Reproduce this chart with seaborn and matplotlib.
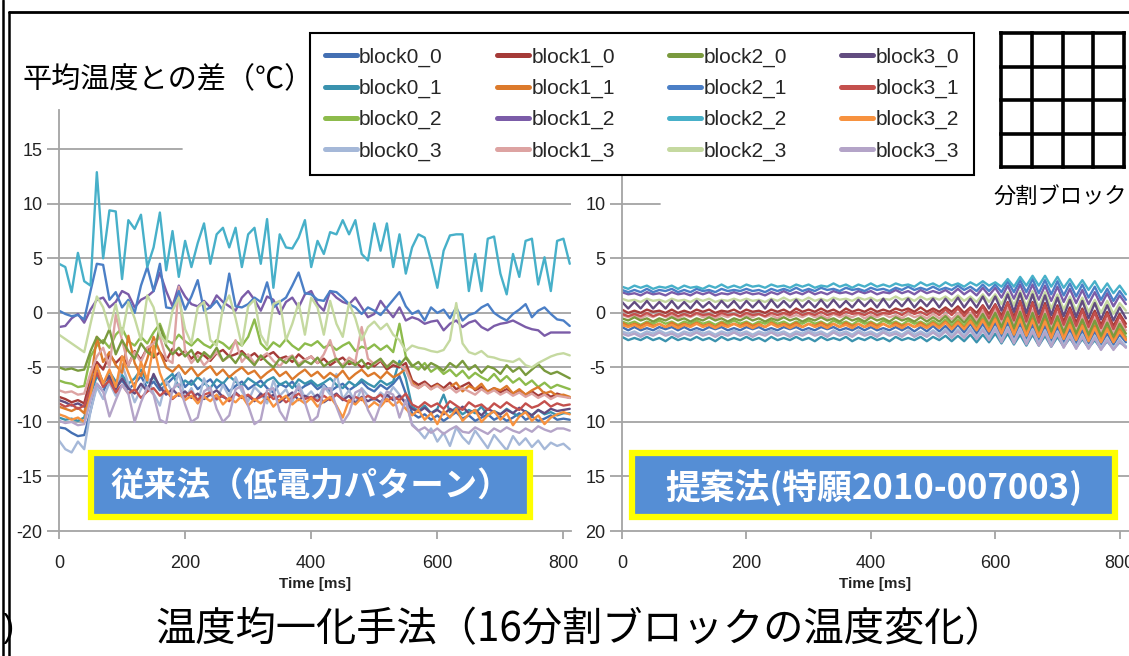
import matplotlib
matplotlib.use("Agg")
import matplotlib.pyplot as plt
import seaborn as sns
import pandas as pd
from matplotlib.lines import Line2D
from matplotlib.patches import Rectangle

# time axis (ms), one sample every 10 ms
TIME = list(range(0, 820, 10))

NAMES = ['block0_0', 'block0_1', 'block0_2', 'block0_3',
         'block1_0', 'block1_1', 'block1_2', 'block1_3',
         'block2_0', 'block2_1', 'block2_2', 'block2_3',
         'block3_0', 'block3_1', 'block3_2', 'block3_3']

COLORS = ['#4470B3', '#3A92AE', '#8DBB4C', '#A5B8D8',
          '#A53B38', '#DC7A2C', '#7B5CA8', '#DDA3A2',
          '#7A9A3E', '#4B7FC6', '#47B0C9', '#C5D9A0',
          '#624C80', '#C4504D', '#F7923F', '#B4A4C8']

# ---- conventional method (left panel) ----
L_B0_0 = [-10.5, -10.6, -11.0, -11.3, -11.2, -9.0, -6.5, -7.2, -6.0, -6.8,
          -6.2, -7.0, -6.5, -5.8, -6.9, -6.3, -7.1, -6.6, -6.0, -5.5,
          -6.8, -6.2, -7.0, -6.5, -6.1, -6.9, -6.4, -7.2, -6.7, -6.3,
          -7.0, -6.6, -6.2, -6.9, -7.3, -6.5, -6.8, -6.3, -7.1, -6.7,
          -6.4, -7.0, -6.6, -7.2, -6.8, -6.5, -7.1, -6.7, -6.3, -6.9,
          -7.2, -6.6, -7.0, -6.5, -5.8, -7.4, -9.2, -9.6, -9.3, -9.8,
          -9.4, -9.9, -9.5, -9.1, -9.7, -9.4, -9.9, -9.6, -9.3, -9.8,
          -9.5, -9.9, -9.6, -9.2, -9.8, -9.5, -9.9, -9.7, -9.4, -9.8,
          -9.7, -9.8]
L_B0_1 = [-9.6, -9.8, -9.7, -9.9, -9.6, -7.5, -5.8, -6.6, -5.4, -6.3,
          -5.7, -6.5, -6.0, -5.2, -6.4, -5.9, -6.7, -6.1, -5.6, -6.8,
          -6.2, -6.6, -5.9, -6.4, -6.9, -6.1, -6.5, -5.8, -6.3, -6.7,
          -6.0, -6.4, -6.8, -6.2, -5.9, -6.6, -6.3, -6.9, -6.1, -6.5,
          -6.2, -6.7, -6.4, -6.0, -6.6, -6.9, -6.3, -6.7, -6.1, -6.5,
          -6.8, -6.2, -6.6, -6.3, -4.4, -6.0, -8.6, -9.0, -8.5, -9.2,
          -8.8, -7.5, -9.1, -8.7, -9.3, -8.9, -9.2, -8.6, -9.4, -9.0,
          -9.3, -8.8, -9.2, -9.5, -9.0, -9.4, -8.9, -9.3, -9.1, -9.4,
          -9.2, -9.2]
L_B0_2 = [-6.2, -6.4, -6.5, -6.8, -6.7, -4.0, -3.0, -2.5, -3.2, -2.0,
          -1.4, -2.6, -3.0, -2.2, -2.8, -1.8, -1.0, -2.5, -2.8, -2.0,
          -2.6, -3.0, -2.4, -2.9, -3.2, -2.5, -2.8, -3.3, -2.6, -3.0,
          -2.2, -0.6, -2.8, -3.4, -2.7, -3.1, -2.4, -3.0, -3.4, -2.8,
          -3.0, -2.6, -3.2, -2.9, -3.4, -3.0, -2.7, -3.5, -3.1, -3.3,
          -2.9, -3.4, -3.0, -3.6, -1.0, -4.0, -4.8, -5.2, -4.6, -5.4,
          -5.0, -5.6, -5.2, -5.8, -5.3, -6.0, -5.5, -5.9, -6.2, -5.6,
          -6.3, -5.8, -6.4, -6.0, -6.6, -6.2, -6.8, -6.4, -6.9, -6.6,
          -6.8, -7.0]
L_B0_3 = [-11.7, -12.5, -12.8, -11.8, -12.5, -9.0, -6.8, -7.9, -6.4, -7.6,
          -4.7, -6.5, -8.2, -7.0, -5.8, -7.4, -8.5, -6.2, -7.3, -5.5,
          -7.8, -6.9, -8.3, -6.0, -7.5, -8.0, -6.6, -7.7, -5.9, -7.2,
          -8.1, -6.8, -7.4, -8.3, -6.2, -7.6, -7.0, -8.2, -6.5, -7.8,
          -7.2, -8.0, -6.7, -7.5, -5.6, -7.9, -7.1, -8.3, -6.9, -7.6,
          -8.1, -7.3, -7.8, -6.8, -7.5, -8.2, -10.2, -10.8, -11.5, -10.6,
          -11.8, -11.0, -12.2, -10.5, -11.4, -12.0, -10.8, -11.6, -12.4, -11.2,
          -11.9, -12.6, -11.3, -12.1, -11.5, -12.3, -11.7, -12.5, -11.9, -12.2,
          -12.0, -12.5]
L_B1_0 = [-7.7, -7.9, -8.2, -8.0, -8.3, -6.0, -4.5, -5.2, -3.8, -4.6,
          -4.0, -4.8, -3.5, -4.3, -3.2, -4.1, -3.6, -4.4, -3.3, -3.9,
          -3.5, -4.2, -3.6, -3.9, -4.4, -3.7, -3.4, -4.0, -3.8, -3.5,
          -4.1, -3.7, -4.3, -3.9, -3.6, -4.2, -4.0, -4.5, -3.8, -4.3,
          -4.0, -4.6, -4.2, -4.8, -4.4, -4.1, -4.7, -4.5, -5.0, -4.6,
          -4.9, -4.4, -5.2, -4.8, -5.0, -4.6, -6.2, -6.6, -6.3, -6.8,
          -6.5, -6.9, -6.4, -7.0, -6.7, -6.4, -7.1, -6.8, -7.2, -6.9,
          -7.3, -7.0, -7.4, -7.1, -7.5, -7.2, -7.6, -7.3, -7.7, -7.4,
          -7.6, -7.8]
L_B1_1 = [-8.6, -8.8, -9.0, -8.7, -9.2, -6.5, -2.2, -4.5, -3.6, -4.8,
          -5.5, -2.1, -4.6, -5.8, -4.2, -2.2, -3.6, -5.0, -5.4, -4.8,
          -5.6, -5.0, -5.8, -5.3, -4.9, -5.7, -5.2, -5.9, -5.4, -5.0,
          -5.6, -5.3, -6.0, -5.5, -5.1, -5.8, -5.4, -6.1, -5.6, -5.2,
          -5.8, -5.4, -6.0, -5.5, -5.9, -5.3, -6.1, -5.6, -5.2, -5.8,
          -5.5, -6.0, -5.4, -5.9, -5.6, -5.1, -6.4, -6.9, -6.5, -7.0,
          -6.6, -7.1, -6.8, -6.4, -7.2, -6.7, -7.0, -6.5, -7.3, -6.9,
          -7.1, -6.7, -7.4, -7.0, -7.5, -7.1, -6.8, -7.4, -7.2, -7.6,
          -7.5, -7.7]
L_B1_2 = [-1.3, -1.2, -0.5, -0.1, -0.9, 0.3, 1.2, 1.4, 0.5, 1.0,
          2.0, 1.7, 0.5, 1.2, 1.5, 2.0, 3.7, 2.0, 0.6, 2.5,
          1.5, 0.8, 0.6, 1.1, 0.5, 1.6, 1.0, 0.6, 0.2, 1.4,
          2.0, 1.2, 0.2, 1.5, 1.2, -0.1, 1.0, 1.4, 0.5, 1.7,
          2.0, 0.8, 0.2, 2.0, 1.4, 1.0, 0.8, 1.4, 0.5, -0.4,
          -0.1, 1.1, 0.3, -0.4, 0.5, -0.7, -0.4, -0.6, -1.0, -0.8,
          -0.7, -1.6, -1.0, -0.7, -1.3, -0.9, -0.7, -1.3, -1.6, -1.2,
          -1.0, -0.9, -0.7, -1.0, -1.3, -1.5, -1.6, -2.1, -1.8, -1.8,
          -1.8, -1.8]
L_B1_3 = [-7.1, -7.3, -7.2, -7.5, -7.4, -5.5, -4.0, -3.2, -5.0, -0.2,
          -2.5, -4.8, -3.6, -4.5, -3.2, -2.8, -2.2, -4.2, -4.6, 2.4,
          -3.5, -4.6, -3.9, -4.8, -4.2, -3.6, -4.4, -4.0, -2.5, -4.5,
          -3.8, -4.6, -4.1, -3.7, -4.4, -4.9, -4.2, -3.9, -4.7, -4.3,
          -4.0, -4.6, -3.8, -2.5, -4.4, -4.8, -4.1, -4.5, -1.3, -4.2,
          -4.7, -4.3, -4.9, -4.5, -4.8, -5.2, -6.6, -6.9, -6.5, -7.0,
          -6.7, -7.1, -6.8, -7.3, -6.9, -7.2, -7.5, -7.0, -7.4, -7.1,
          -7.5, -7.2, -7.6, -7.3, -7.7, -7.4, -7.8, -7.5, -7.9, -7.6,
          -7.7, -7.8]
L_B2_0 = [-5.0, -5.2, -5.1, -5.3, -5.2, -3.5, -2.2, -2.8, -1.5, -3.8,
          -2.5, -3.5, -4.2, -2.8, -3.6, -4.0, -1.2, -3.0, -3.8, -3.2,
          -4.0, -3.4, -4.5, -3.6, -4.1, -3.2, -4.4, -3.9, -4.6, -3.7,
          -4.2, -4.8, -3.9, -4.5, -5.0, -4.2, -4.6, -4.0, -4.9, -4.4,
          -4.7, -4.1, -4.9, -4.5, -4.2, -5.0, -4.4, -4.8, -4.3, -5.1,
          -4.6, -4.2, -5.0, -4.4, -4.8, -4.1, -4.9, -4.5, -5.2, -4.6,
          -4.9, -5.3, -4.6, -5.0, -4.4, -5.2, -4.8, -5.5, -4.9, -5.1,
          -5.6, -4.8, -5.4, -5.0, -5.7, -5.2, -4.7, -5.3, -5.6, -5.4,
          -5.7, -6.0]
L_B2_1 = [0.2, -0.1, -0.3, -0.2, -0.6, 2.0, 4.5, 4.4, 1.2, 1.9,
          0.5, 1.2, 0.0, 2.5, 4.2, 2.0, 4.5, 0.5, 0.4, 2.0,
          0.3, 1.5, 3.0, 0.2, 0.5, 1.1, 0.2, 3.6, 0.6, 0.5,
          0.8, 1.4, 1.0, 2.8, 0.5, 1.0, 1.4, 2.5, 3.7, 1.8,
          1.7, 1.2, 1.1, 2.0, 1.9, 1.4, 0.8, 0.5, -0.1, 0.5,
          0.2, -0.2, 0.5, 1.2, 1.9, 0.6, -0.1, 0.2, -0.7, 0.5,
          0.0, 0.3, -0.5, 0.5, -0.7, -0.2, 0.0, 0.5, 0.8, 0.0,
          -0.4, -0.7, -0.1, 0.3, 0.8, -0.4, 0.2, 0.5, -0.1, -0.6,
          -0.7, -1.2]
L_B2_2 = [4.5, 4.2, 1.9, 5.5, 2.9, 2.5, 12.9, 5.0, 9.4, 9.3,
          3.1, 8.5, 7.7, 9.0, 4.2, 6.0, 9.2, 3.9, 7.5, 3.3,
          6.6, 4.2, 6.4, 8.2, 4.5, 7.2, 7.8, 6.0, 7.8, 4.2,
          7.2, 7.8, 4.5, 8.6, 2.3, 7.2, 6.0, 5.9, 6.9, 8.5,
          4.2, 6.6, 5.4, 7.4, 7.2, 8.5, 7.2, 8.5, 5.4, 4.8,
          8.2, 5.7, 8.2, 4.2, 7.2, 3.6, 6.0, 7.2, 6.9, 4.8,
          2.3, 5.7, 7.1, 7.2, 7.2, 2.0, 5.4, 2.0, 6.8, 7.0,
          3.6, 1.7, 5.4, 3.3, 6.6, 6.8, 2.6, 5.1, 2.0, 6.6,
          6.8, 4.5]
L_B2_3 = [-2.0, -2.4, -2.8, -3.2, -3.6, -1.0, 1.5, 0.5, -1.5, 0.8,
          -2.0, 1.0, -0.5, -2.5, 1.6, 0.5, -2.0, -2.8, 0.2, 1.4,
          -1.5, -2.8, 0.5, 1.0, -2.5, -3.0, 0.5, 1.6, -0.5, -3.0,
          0.6, 1.2, -2.0, -3.0, 0.8, 1.1, -2.5, -1.0, 0.9, -2.0,
          1.4, 0.5, -2.0, 1.1, -1.0, -2.2, 0.9, -0.5, -2.5, -1.3,
          -0.8, -1.5, -1.0, -2.0, -2.5, -3.5, -3.0, -3.2, -3.3, -3.5,
          -3.6, -3.4, -2.5, 0.9, -2.8, -3.6, -3.8, -3.5, -4.0, -4.1,
          -4.3, -4.4, -4.5, -4.2, -4.8, -5.0, -4.6, -4.3, -4.0, -3.8,
          -3.7, -3.9]
L_B3_0 = [-8.0, -8.2, -8.5, -8.3, -8.6, -6.8, -5.0, -6.4, -5.8, -7.0,
          -6.0, -6.9, -7.4, -6.5, -7.2, -5.6, -6.8, -7.5, -7.0, -7.6,
          -7.2, -7.8, -7.4, -7.9, -7.5, -7.1, -7.7, -8.0, -7.3, -7.8,
          -7.6, -8.1, -7.4, -7.9, -7.5, -8.2, -7.7, -7.3, -8.0, -7.6,
          -7.9, -7.5, -8.2, -7.8, -7.4, -8.0, -7.6, -8.3, -7.7, -8.1,
          -7.8, -8.2, -7.5, -8.0, -7.6, -8.3, -8.8, -9.1, -8.7, -9.2,
          -8.9, -9.3, -8.8, -9.1, -8.6, -9.2, -8.9, -9.4, -8.8, -9.1,
          -9.3, -8.9, -9.2, -8.7, -9.1, -9.4, -8.9, -9.2, -8.8, -9.0,
          -8.9, -8.8]
L_B3_1 = [-8.3, -8.6, -8.4, -8.8, -8.5, -7.0, -5.5, -6.8, -6.2, -7.3,
          -6.6, -7.4, -7.0, -7.8, -7.2, -6.9, -7.6, -7.1, -7.9, -7.4,
          -7.7, -7.2, -8.0, -7.5, -7.3, -7.9, -7.6, -8.1, -7.4, -7.8,
          -7.5, -8.0, -7.7, -7.3, -7.9, -7.6, -8.2, -7.8, -7.4, -7.9,
          -7.7, -8.1, -7.6, -8.0, -7.5, -7.9, -8.2, -7.7, -8.0, -7.6,
          -7.9, -7.5, -8.1, -7.7, -8.0, -7.4, -8.4, -8.7, -8.2, -8.6,
          -8.3, -8.8, -8.1, -8.5, -8.9, -8.2, -8.6, -8.4, -8.9, -8.3,
          -8.7, -8.2, -8.6, -8.9, -8.3, -8.7, -8.5, -8.1, -8.6, -8.3,
          -8.5, -8.4]
L_B3_2 = [-9.3, -9.5, -9.8, -9.6, -10.0, -7.5, -4.8, -6.5, -5.2, -6.8,
          -4.0, -5.5, -6.9, -4.5, -6.2, -3.0, -5.5, -7.0, -7.8, -7.4,
          -8.0, -7.6, -8.3, -7.7, -8.1, -7.5, -8.4, -7.8, -8.2, -7.6,
          -8.5, -7.9, -8.3, -7.7, -8.6, -8.0, -7.6, -8.4, -7.9, -8.3,
          -7.8, -8.6, -8.1, -7.7, -8.5, -9.6, -8.0, -8.4, -7.8, -8.7,
          -8.2, -8.6, -7.9, -8.5, -8.1, -8.8, -9.4, -8.9, -9.8, -9.2,
          -10.2, -9.0, -9.6, -8.8, -9.9, -9.3, -8.9, -10.0, -9.4, -9.0,
          -9.8, -9.2, -10.3, -9.5, -9.1, -9.9, -9.4, -10.2, -9.6, -9.3,
          -9.1, -9.3]
L_B3_3 = [-9.9, -10.1, -10.0, -10.3, -10.2, -8.0, -6.5, -7.2, -9.5, -8.0,
          -6.6, -7.4, -10.0, -8.2, -6.8, -7.5, -9.8, -10.1, -7.0, -6.5,
          -8.4, -10.0, -9.6, -7.2, -6.8, -8.8, -10.0, -9.4, -7.0, -6.7,
          -8.5, -10.2, -9.8, -7.1, -6.9, -9.0, -9.9, -7.6, -6.8, -8.2,
          -10.0, -9.5, -7.0, -6.9, -8.6, -10.1, -9.2, -7.3, -7.0, -8.9,
          -10.0, -8.4, -7.2, -7.5, -9.6, -8.0, -10.3, -10.8, -10.5, -11.0,
          -10.6, -11.1, -10.7, -10.4, -10.9, -11.0, -10.5, -10.8, -11.1, -10.6,
          -10.9, -10.5, -10.8, -11.0, -10.6, -10.9, -10.4, -10.7, -10.9, -10.6,
          -10.6, -10.8]

# ---- proposed method (right panel) ----
R_B0_0 = [-1.3, -1.6, -1.3, -1.6, -1.4, -1.6, -1.3, -1.5, -1.3, -1.6,
          -1.3, -1.6, -1.4, -1.6, -1.3, -1.5, -1.3, -1.6, -1.4, -1.6,
          -1.3, -1.5, -1.3, -1.6, -1.4, -1.6, -1.3, -1.5, -1.3, -1.6,
          -1.4, -1.6, -1.3, -1.5, -1.3, -1.6, -1.4, -1.6, -1.3, -1.6,
          -1.3, -1.6, -1.4, -1.6, -1.3, -1.6, -1.3, -1.7, -1.3, -1.7,
          -1.2, -1.7, -1.2, -1.8, -1.1, -1.8, -1.0, -1.9, -1.0, -2.0,
          -0.9, -2.2, -0.9, -2.3, -1.0, -2.4, -1.1, -2.5, -1.2, -2.6,
          -1.3, -2.7, -1.5, -2.8, -1.6, -2.8, -1.7, -2.9, -1.9, -2.9,
          -2.0, -2.7]
R_B0_1 = [-2.2, -2.5, -2.3, -2.5, -2.2, -2.5, -2.3, -2.6, -2.2, -2.5,
          -2.3, -2.5, -2.2, -2.5, -2.3, -2.6, -2.2, -2.5, -2.3, -2.5,
          -2.2, -2.5, -2.3, -2.6, -2.2, -2.5, -2.3, -2.5, -2.2, -2.5,
          -2.3, -2.6, -2.2, -2.5, -2.3, -2.5, -2.2, -2.6, -2.3, -2.5,
          -2.2, -2.5, -2.3, -2.6, -2.2, -2.5, -2.3, -2.5, -2.2, -2.6,
          -2.2, -2.5, -2.1, -2.6, -2.1, -2.6, -2.0, -2.7, -2.0, -2.7,
          -1.9, -2.8, -1.9, -2.9, -2.0, -3.0, -2.0, -3.0, -2.1, -3.1,
          -2.2, -3.1, -2.3, -3.2, -2.4, -3.2, -2.5, -3.3, -2.6, -3.3,
          -2.7, -3.1]
R_B0_2 = [-0.8, -1.0, -0.8, -1.1, -0.8, -1.0, -0.7, -1.0, -0.8, -1.1,
          -0.8, -1.0, -0.7, -1.0, -0.8, -1.1, -0.8, -1.0, -0.7, -1.0,
          -0.8, -1.1, -0.8, -1.0, -0.7, -1.0, -0.8, -1.1, -0.8, -1.0,
          -0.7, -1.0, -0.8, -1.1, -0.7, -1.0, -0.8, -1.1, -0.7, -1.0,
          -0.8, -1.1, -0.7, -1.0, -0.8, -1.1, -0.7, -1.0, -0.8, -1.1,
          -0.7, -1.1, -0.6, -1.2, -0.6, -1.2, -0.5, -1.3, -0.4, -1.4,
          -0.3, -1.6, -0.2, -1.7, -0.2, -1.8, -0.3, -1.9, -0.4, -2.0,
          -0.5, -2.1, -0.7, -2.2, -0.8, -2.3, -1.0, -2.4, -1.1, -2.5,
          -1.3, -2.2]
R_B0_3 = [-1.7, -1.9, -1.7, -2.0, -1.7, -1.9, -1.6, -1.9, -1.7, -2.0,
          -1.7, -1.9, -1.6, -1.9, -1.7, -2.0, -1.7, -1.9, -1.6, -1.9,
          -1.7, -2.0, -1.7, -1.9, -1.6, -1.9, -1.7, -2.0, -1.7, -1.9,
          -1.6, -1.9, -1.7, -2.0, -1.6, -1.9, -1.7, -2.0, -1.6, -1.9,
          -1.7, -2.0, -1.6, -1.9, -1.7, -2.0, -1.6, -2.0, -1.7, -2.0,
          -1.6, -2.0, -1.5, -2.1, -1.5, -2.1, -1.4, -2.2, -1.4, -2.3,
          -1.3, -2.5, -1.3, -2.6, -1.4, -2.7, -1.5, -2.8, -1.6, -2.9,
          -1.7, -3.0, -1.9, -3.1, -2.0, -3.2, -2.1, -3.2, -2.3, -3.3,
          -2.4, -3.1]
R_B1_0 = [0.3, 0.0, 0.2, 0.0, 0.3, 0.1, 0.2, 0.0, 0.3, 0.0,
          0.2, 0.0, 0.3, 0.1, 0.3, 0.0, 0.2, 0.1, 0.3, 0.0,
          0.3, 0.1, 0.2, 0.0, 0.3, 0.1, 0.3, 0.0, 0.4, 0.1,
          0.3, 0.1, 0.4, 0.1, 0.3, 0.0, 0.4, 0.1, 0.3, 0.1,
          0.4, 0.1, 0.3, 0.1, 0.4, 0.2, 0.4, 0.1, 0.5, 0.1,
          0.4, 0.1, 0.5, 0.1, 0.6, 0.0, 0.5, 0.0, 0.7, -0.1,
          0.8, -0.3, 1.0, -0.4, 1.1, -0.5, 1.0, -0.6, 0.9, -0.7,
          0.7, -0.8, 0.5, -0.9, 0.4, -1.0, 0.2, -1.1, 0.1, -1.2,
          -0.1, -1.0]
R_B1_1 = [-0.9, -1.2, -1.0, -1.2, -0.9, -1.2, -1.0, -1.3, -0.9, -1.2,
          -1.0, -1.2, -0.9, -1.2, -1.0, -1.3, -0.9, -1.2, -1.0, -1.2,
          -0.9, -1.2, -1.0, -1.3, -0.9, -1.2, -1.0, -1.2, -0.9, -1.3,
          -1.0, -1.2, -0.9, -1.2, -1.0, -1.3, -0.9, -1.2, -1.0, -1.3,
          -0.9, -1.2, -1.0, -1.3, -0.9, -1.2, -1.0, -1.3, -0.9, -1.3,
          -0.9, -1.3, -0.8, -1.4, -0.8, -1.4, -0.7, -1.5, -0.6, -1.6,
          -0.5, -1.8, -0.4, -1.9, -0.4, -2.0, -0.5, -2.1, -0.6, -2.2,
          -0.8, -2.3, -0.9, -2.4, -1.1, -2.5, -1.2, -2.6, -1.4, -2.6,
          -1.5, -2.4]
R_B1_2 = [1.9, 1.7, 1.8, 1.6, 1.9, 1.7, 1.8, 1.6, 1.9, 1.7,
          1.8, 1.6, 1.9, 1.7, 1.9, 1.6, 1.8, 1.7, 1.9, 1.7,
          1.9, 1.7, 1.8, 1.6, 1.9, 1.7, 2.0, 1.7, 1.9, 1.7,
          2.0, 1.7, 1.9, 1.7, 2.0, 1.8, 1.9, 1.7, 2.0, 1.8,
          2.0, 1.7, 1.9, 1.8, 2.1, 1.8, 2.0, 1.7, 2.1, 1.8,
          2.0, 1.8, 2.1, 1.7, 2.2, 1.7, 2.1, 1.6, 2.3, 1.6,
          2.3, 1.4, 2.5, 1.3, 2.6, 1.3, 2.6, 1.2, 2.5, 1.1,
          2.4, 1.0, 2.2, 0.9, 2.1, 0.8, 1.9, 0.7, 1.8, 0.6,
          1.6, 0.8]
R_B1_3 = [-0.2, -0.4, -0.2, -0.5, -0.2, -0.4, -0.1, -0.4, -0.2, -0.5,
          -0.2, -0.4, -0.1, -0.4, -0.2, -0.5, -0.2, -0.4, -0.1, -0.4,
          -0.2, -0.4, -0.1, -0.4, -0.2, -0.5, -0.1, -0.4, -0.2, -0.4,
          -0.1, -0.4, -0.2, -0.5, -0.1, -0.4, -0.2, -0.4, -0.1, -0.5,
          -0.2, -0.4, -0.1, -0.4, -0.2, -0.5, -0.1, -0.4, -0.2, -0.5,
          -0.1, -0.5, -0.1, -0.6, 0.0, -0.6, 0.0, -0.7, 0.2, -0.8,
          0.3, -1.0, 0.4, -1.1, 0.4, -1.2, 0.3, -1.3, 0.2, -1.4,
          0.0, -1.5, -0.2, -1.6, -0.3, -1.7, -0.5, -1.8, -0.6, -1.9,
          -0.8, -1.6]
R_B2_0 = [-0.5, -0.7, -0.4, -0.7, -0.5, -0.8, -0.5, -0.7, -0.4, -0.7,
          -0.5, -0.8, -0.5, -0.7, -0.4, -0.7, -0.5, -0.8, -0.5, -0.7,
          -0.4, -0.7, -0.5, -0.8, -0.5, -0.7, -0.4, -0.7, -0.5, -0.8,
          -0.5, -0.7, -0.4, -0.7, -0.5, -0.8, -0.4, -0.7, -0.5, -0.8,
          -0.4, -0.7, -0.5, -0.8, -0.4, -0.7, -0.5, -0.8, -0.4, -0.8,
          -0.4, -0.8, -0.3, -0.9, -0.3, -0.9, -0.2, -1.0, -0.1, -1.1,
          0.0, -1.3, 0.1, -1.4, 0.1, -1.5, 0.0, -1.6, -0.1, -1.7,
          -0.3, -1.8, -0.4, -1.9, -0.6, -2.0, -0.7, -2.1, -0.9, -2.2,
          -1.0, -1.9]
R_B2_1 = [2.1, 1.9, 2.1, 1.9, 2.2, 1.9, 2.1, 2.0, 2.2, 1.9,
          2.1, 1.9, 2.2, 2.0, 2.1, 1.9, 2.2, 2.0, 2.1, 2.0,
          2.2, 2.0, 2.1, 1.9, 2.2, 2.0, 2.2, 2.0, 2.3, 2.0,
          2.2, 2.0, 2.3, 2.1, 2.2, 2.0, 2.3, 2.1, 2.2, 2.0,
          2.3, 2.1, 2.2, 2.0, 2.3, 2.1, 2.4, 2.1, 2.3, 2.1,
          2.4, 2.1, 2.3, 2.1, 2.5, 2.1, 2.4, 2.0, 2.6, 2.0,
          2.6, 1.9, 2.9, 1.9, 3.0, 1.9, 3.1, 1.8, 3.0, 1.7,
          2.9, 1.6, 2.7, 1.5, 2.6, 1.4, 2.4, 1.2, 2.2, 1.1,
          2.0, 1.2]
R_B2_2 = [2.4, 2.2, 2.5, 2.3, 2.5, 2.2, 2.4, 2.3, 2.5, 2.2,
          2.5, 2.3, 2.4, 2.2, 2.5, 2.3, 2.6, 2.3, 2.5, 2.3,
          2.6, 2.4, 2.5, 2.3, 2.6, 2.4, 2.5, 2.3, 2.6, 2.4,
          2.6, 2.3, 2.5, 2.4, 2.7, 2.4, 2.6, 2.3, 2.6, 2.4,
          2.7, 2.4, 2.6, 2.4, 2.7, 2.5, 2.6, 2.4, 2.8, 2.5,
          2.7, 2.4, 2.8, 2.5, 2.7, 2.4, 2.8, 2.5, 2.9, 2.5,
          2.8, 2.4, 3.1, 2.4, 3.3, 2.5, 3.4, 2.5, 3.4, 2.4,
          3.3, 2.3, 3.1, 2.2, 3.0, 2.1, 2.9, 1.9, 2.7, 1.8,
          2.5, 1.7]
R_B2_3 = [1.3, 1.1, 1.2, 1.0, 1.3, 1.1, 1.2, 1.0, 1.3, 1.1,
          1.2, 1.0, 1.3, 1.1, 1.3, 1.0, 1.2, 1.1, 1.3, 1.1,
          1.3, 1.1, 1.2, 1.0, 1.3, 1.1, 1.4, 1.1, 1.3, 1.1,
          1.4, 1.1, 1.3, 1.1, 1.4, 1.2, 1.3, 1.1, 1.4, 1.2,
          1.4, 1.1, 1.3, 1.2, 1.5, 1.2, 1.4, 1.1, 1.5, 1.2,
          1.4, 1.2, 1.5, 1.1, 1.6, 1.1, 1.5, 1.0, 1.7, 1.0,
          1.7, 0.8, 1.9, 0.7, 2.0, 0.6, 2.0, 0.5, 1.9, 0.4,
          1.7, 0.3, 1.5, 0.2, 1.4, 0.1, 1.2, 0.0, 1.1, -0.1,
          0.9, 0.2]
R_B3_0 = [1.0, 0.4, 1.0, 0.4, 1.1, 0.4, 1.0, 0.4, 1.1, 0.4,
          1.0, 0.4, 1.1, 0.5, 1.0, 0.4, 1.1, 0.5, 1.1, 0.4,
          1.1, 0.5, 1.1, 0.4, 1.2, 0.5, 1.1, 0.5, 1.2, 0.5,
          1.1, 0.5, 1.2, 0.5, 1.2, 0.5, 1.1, 0.5, 1.2, 0.6,
          1.2, 0.5, 1.3, 0.5, 1.2, 0.6, 1.3, 0.5, 1.2, 0.6,
          1.3, 0.5, 1.3, 0.6, 1.4, 0.5, 1.3, 0.5, 1.5, 0.4,
          1.5, 0.2, 1.7, 0.1, 1.8, 0.0, 1.7, -0.1, 1.6, -0.2,
          1.4, -0.3, 1.2, -0.4, 1.1, -0.5, 0.9, -0.6, 0.7, -0.7,
          0.5, -0.5]
R_B3_1 = [-0.1, -0.3, -0.1, -0.3, 0.0, -0.3, -0.1, -0.3, 0.0, -0.3,
          -0.1, -0.3, 0.0, -0.2, -0.1, -0.3, 0.0, -0.2, -0.1, -0.3,
          0.0, -0.2, -0.1, -0.3, 0.0, -0.2, 0.0, -0.2, 0.1, -0.2,
          0.0, -0.2, 0.1, -0.2, 0.0, -0.2, 0.1, -0.1, 0.0, -0.2,
          0.1, -0.2, 0.0, -0.1, 0.1, -0.2, 0.2, -0.1, 0.1, -0.2,
          0.2, -0.2, 0.3, -0.2, 0.4, -0.3, 0.4, -0.4, 0.6, -0.5,
          0.7, -0.6, 0.9, -0.7, 1.0, -0.8, 0.9, -0.9, 0.7, -1.0,
          0.5, -1.1, 0.3, -1.2, 0.2, -1.3, 0.0, -1.4, -0.1, -1.5,
          -0.3, -1.3]
R_B3_2 = [-1.1, -1.3, -1.1, -1.4, -1.1, -1.3, -1.0, -1.3, -1.1, -1.4,
          -1.1, -1.3, -1.0, -1.3, -1.1, -1.4, -1.1, -1.3, -1.0, -1.3,
          -1.1, -1.4, -1.1, -1.3, -1.0, -1.3, -1.1, -1.4, -1.1, -1.3,
          -1.0, -1.3, -1.1, -1.4, -1.0, -1.3, -1.1, -1.4, -1.0, -1.3,
          -1.1, -1.4, -1.0, -1.3, -1.1, -1.4, -1.0, -1.3, -1.1, -1.4,
          -1.0, -1.4, -0.9, -1.5, -0.9, -1.5, -0.8, -1.6, -0.7, -1.7,
          -0.6, -1.9, -0.5, -2.0, -0.6, -2.1, -0.7, -2.2, -0.8, -2.3,
          -0.9, -2.4, -1.1, -2.5, -1.2, -2.6, -1.4, -2.7, -1.5, -2.7,
          -1.7, -2.5]
R_B3_3 = [-1.9, -2.1, -1.9, -2.2, -1.9, -2.1, -1.8, -2.1, -1.9, -2.2,
          -1.9, -2.1, -1.8, -2.1, -1.9, -2.2, -1.9, -2.1, -1.8, -2.1,
          -1.9, -2.2, -1.9, -2.1, -1.8, -2.1, -1.9, -2.2, -1.9, -2.1,
          -1.8, -2.1, -1.9, -2.2, -1.8, -2.1, -1.9, -2.2, -1.8, -2.1,
          -1.9, -2.2, -1.8, -2.1, -1.9, -2.2, -1.8, -2.2, -1.9, -2.2,
          -1.8, -2.2, -1.7, -2.3, -1.7, -2.3, -1.6, -2.4, -1.6, -2.5,
          -1.5, -2.7, -1.5, -2.8, -1.6, -2.9, -1.7, -3.0, -1.8, -3.1,
          -1.9, -3.2, -2.1, -3.3, -2.2, -3.3, -2.3, -3.4, -2.5, -3.4,
          -2.6, -3.2]

LEFT = [L_B0_0, L_B0_1, L_B0_2, L_B0_3, L_B1_0, L_B1_1, L_B1_2, L_B1_3,
        L_B2_0, L_B2_1, L_B2_2, L_B2_3, L_B3_0, L_B3_1, L_B3_2, L_B3_3]
RIGHT = [R_B0_0, R_B0_1, R_B0_2, R_B0_3, R_B1_0, R_B1_1, R_B1_2, R_B1_3,
         R_B2_0, R_B2_1, R_B2_2, R_B2_3, R_B3_0, R_B3_1, R_B3_2, R_B3_3]

Y_TICKS = [-20, -15, -10, -5, 0, 5, 10, 15]
X_TICKS = [0, 200, 400, 600, 800]


def to_long(series):
    parts = []
    for name, vals in zip(NAMES, series):
        assert len(vals) == len(TIME), name
        parts.append(pd.DataFrame({'t': TIME, 'v': vals, 'block': name}))
    return pd.concat(parts, ignore_index=True)


sns.set_theme(style='white')
plt.rcParams['font.family'] = ['Noto Sans CJK JP', 'DejaVu Sans']
NUM_FONT = ['Liberation Sans Narrow', 'Liberation Sans', 'DejaVu Sans']
GRID = '#A4A4A4'
palette = dict(zip(NAMES, COLORS))

W, H = 1129, 656
fig = plt.figure(figsize=(W / 100, H / 100), dpi=100)


def fx(x):
    return x / W


def fy(y):
    return 1 - y / H


ax1 = fig.add_axes([fx(59), fy(531), 512 / W, 421 / H])
ax2 = fig.add_axes([fx(622), fy(531), 507 / W, 421 / H])

for ax, series, xmax in [(ax1, LEFT, 812), (ax2, RIGHT, 815)]:
    sns.lineplot(data=to_long(series), x='t', y='v', hue='block',
                 hue_order=NAMES, palette=palette, estimator=None,
                 sort=False, linewidth=1.7, legend=False, ax=ax)
    ax.set_xlim(0, xmax)
    ax.set_ylim(-20, 18.6)
    ax.set_facecolor('none')
    ax.spines['top'].set_visible(False)
    ax.spines['right'].set_visible(False)
    for s in ['left', 'bottom']:
        ax.spines[s].set_color(GRID)
        ax.spines[s].set_linewidth(1.3)
    ax.set_xticks(X_TICKS)
    ax.set_xticklabels([str(v) for v in X_TICKS], fontfamily=NUM_FONT,
                       fontsize=13, color='#222222')
    ax.tick_params(axis='x', direction='out', length=6, width=1.3,
                   color=GRID, pad=11, bottom=True)
    ax.tick_params(axis='y', direction='out', length=9, width=1.3,
                   color=GRID, pad=3, left=True)
    ax.set_xlabel('Time [ms]', fontfamily=NUM_FONT, fontsize=11,
                  fontweight='bold', labelpad=4, color='#222222')
    ax.set_ylabel('')

# left panel grid
ax1.set_yticks(Y_TICKS)
ax1.set_yticklabels([str(v) for v in Y_TICKS], fontfamily=NUM_FONT,
                    fontsize=13, color='#222222')
for v in Y_TICKS[1:-1]:
    ax1.axhline(v, color=GRID, lw=1.3, zorder=0.5)
ax1.axhline(15, xmax=0.24, color=GRID, lw=1.3, zorder=0.5)

# right panel grid (its tick labels are partly hidden in the slide)
r_ticks = Y_TICKS[:-1]
ax2.set_yticks(r_ticks)
ax2.set_yticklabels(['20', '15', '10', '-5', '0', '5', '10'],
                    fontfamily=NUM_FONT, fontsize=13, color='#222222')
ax2.spines['left'].set_bounds(-20, 12.6)
for v in r_ticks[1:-1]:
    ax2.axhline(v, color=GRID, lw=1.3, zorder=0.5)
ax2.axhline(10, xmax=0.075, color=GRID, lw=1.3, zorder=0.5)

# legend
handles = [Line2D([], [], color=c, lw=3.6) for c in COLORS]
leg = fig.legend(handles, NAMES, loc='upper left',
                 bbox_to_anchor=(fx(310), fy(33)), ncol=4, frameon=True,
                 fancybox=False, edgecolor='black', framealpha=1,
                 prop={'family': NUM_FONT[1:], 'size': 15},
                 handlelength=1.55, handletextpad=0.1, columnspacing=2.6,
                 labelspacing=0.58, borderpad=0.7, borderaxespad=0)
leg.get_frame().set_linewidth(1.5)

# block grid picture
gax = fig.add_axes([fx(1001), fy(167), 123 / W, 134 / H])
gax.set_xlim(0, 4)
gax.set_ylim(0, 4)
gax.axis('off')
for i in range(5):
    gax.plot([i, i], [0, 4], color='black', lw=2.6, clip_on=False,
             solid_capstyle='projecting')
    gax.plot([0, 4], [i, i], color='black', lw=2.6, clip_on=False,
             solid_capstyle='projecting')
fig.text(fx(993), fy(197), '分割ブロック', fontsize=16, va='center',
         ha='left', color='black')

# texts
fig.text(fx(22), fy(80), '平均温度との差（℃）', fontsize=21, va='center',
         ha='left', color='black')
fig.text(fx(580), fy(630), '温度均一化手法（16分割ブロックの温度変化）',
         fontsize=29, va='center', ha='center', color='black')
fig.text(fx(3), fy(628), ')', fontsize=24, va='center', ha='left',
         color='black', family=NUM_FONT[1:])

# method labels
for (x0, x1), label, size in [((91, 530), '従来法（低電力パターン）', 24),
                              ((632, 1115), '提案法(特願2010-007003)', 25)]:
    fig.add_artist(Rectangle((fx(x0), fy(517)), (x1 - x0) / W, 64 / H,
                             transform=fig.transFigure, facecolor='#558ED5',
                             edgecolor='#FFFF00', linewidth=4.5, zorder=5))
    fig.text(fx((x0 + x1) / 2), fy(487), label, fontsize=size,
             fontweight='bold', color='white', ha='center', va='center',
             zorder=6)

# slide frame
fig.add_artist(Line2D([fx(9), 1], [fy(12), fy(12)], color='black', lw=2,
                      transform=fig.transFigure))
fig.add_artist(Line2D([fx(9), fx(9)], [fy(12), 0], color='black', lw=1.8,
                      transform=fig.transFigure))
fig.add_artist(Line2D([fx(2.5), fx(2.5)], [1, 0], color='black', lw=1.8,
                      transform=fig.transFigure))

fig.savefig('out.png', dpi=100)
